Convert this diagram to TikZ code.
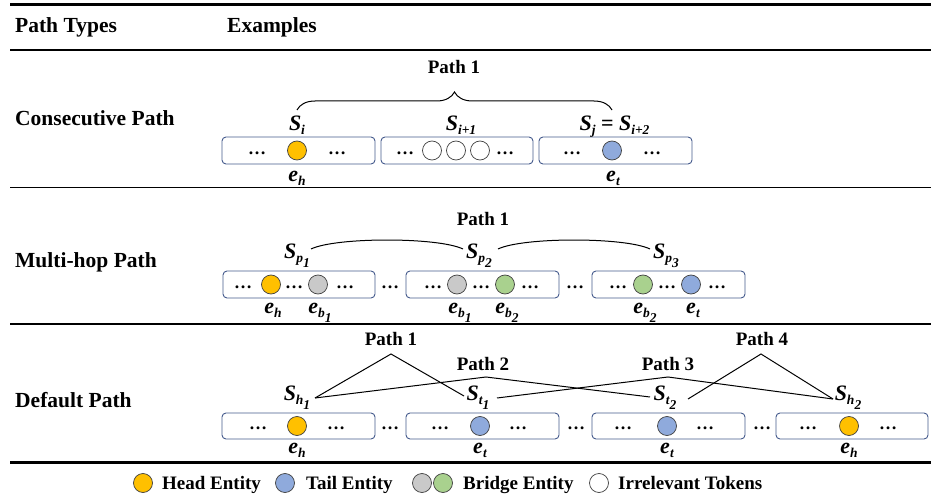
\documentclass[tikz,border=0pt]{standalone}
\usepackage{fontspec}
\setmainfont{Liberation Serif}
\usetikzlibrary{decorations.pathreplacing}
\definecolor{headc}{HTML}{FFC000}
\definecolor{tailc}{HTML}{8FAADC}
\definecolor{grayc}{HTML}{C9C9C9}
\definecolor{greenc}{HTML}{A9D18E}
\definecolor{boxc}{RGB}{68,90,140}
\newcommand{\sbx}[1]{\raisebox{-4.5pt}{\fontsize{13.5}{13.5}\selectfont #1}}
\tikzset{
  ent/.style={circle, draw=black!75, line width=0.7pt, minimum size=19pt, inner sep=0pt},
  headent/.style={ent, fill=headc},
  tailent/.style={ent, fill=tailc},
  grayent/.style={ent, fill=grayc},
  greenent/.style={ent, fill=greenc},
  whiteent/.style={ent, fill=white},
  tokbox/.style={draw=boxc, rounded corners=4pt, line width=0.9pt, inner sep=0pt, minimum height=27pt},
  dotsl/.style={anchor=base, inner sep=0pt, font=\fontsize{18}{18}\selectfont\bfseries},
  slab/.style={anchor=base, inner sep=0pt, font=\fontsize{22}{22}\selectfont\bfseries\itshape},
  elab/.style={anchor=base, inner sep=0pt, font=\fontsize{22}{22}\selectfont\bfseries\itshape},
  pathlab/.style={anchor=base, inner sep=0pt, font=\fontsize{19}{19}\selectfont\bfseries},
  rowtitle/.style={anchor=base west, inner sep=0pt, font=\fontsize{21.5}{21.5}\selectfont\bfseries},
  legtext/.style={anchor=base west, inner sep=0pt, font=\fontsize{19}{19}\selectfont\bfseries},
  conn/.style={line width=1pt, black},
  rulethick/.style={line width=3pt},
  rulethin/.style={line width=1.8pt},
}
\begin{document}
\begin{tikzpicture}[x=1pt,y=-1pt]
\useasboundingbox (0,0) rectangle (938,503);
% rules
\draw[rulethick] (10,5) -- (931,5);
\draw[rulethin] (10,50) -- (931,50);
\draw[rulethin] (10,187.5) -- (931,187.5);
\draw[rulethin] (10,324) -- (931,324);
\draw[rulethick] (10,462) -- (931,462);
% header
\node[rowtitle] (hpt) at (15,33) {Path Types};
\node[rowtitle] (hex) at (227,33) {Examples};
\node[rowtitle] (rcp) at (15,125) {Consecutive Path};
\node[rowtitle] (rmp) at (15,267) {Multi-hop Path};
\node[rowtitle] (rdp) at (15,407) {Default Path};

% ---------- Consecutive ----------
\node[tokbox, minimum width=153pt] (cb1) at (298.5,150.5) {};
\node[tokbox, minimum width=152pt] (cb2) at (457,150.5) {};
\node[tokbox, minimum width=153pt] (cb3) at (615.5,150.5) {};
\node[headent] (ch) at (297,150.5) {};
\node[whiteent] (cw1) at (432,150.5) {};
\node[whiteent] (cw2) at (456,150.5) {};
\node[whiteent] (cw3) at (480,150.5) {};
\node[tailent] (ct) at (612,150.5) {};
\node[dotsl] (cd1) at (257,154) {\dots};
\node[dotsl] (cd2) at (337,154) {\dots};
\node[dotsl] (cd3) at (405,154) {\dots};
\node[dotsl] (cd4) at (505,154) {\dots};
\node[dotsl] (cd5) at (572,154) {\dots};
\node[dotsl] (cd6) at (652,154) {\dots};
\node[slab] (csi) at (297,130) {S\sbx{i}};
\node[slab] (csi1) at (461,130) {S\sbx{i+1}};
\node[slab] (csj) at (614.5,130) {S\sbx{j} {\upshape=} S\sbx{i+2}};
\node[elab] (ceh) at (297,181) {e\sbx{h}};
\node[elab] (cet) at (613,181) {e\sbx{t}};
\node[pathlab] (cp1) at (454,74) {Path 1};
\coordinate (cbl) at (297,110);
\coordinate (cbr) at (612,110);
\draw[decorate, decoration={brace, amplitude=18pt}, line width=1pt] (cbl) -- (cbr);

% ---------- Multi-hop ----------
\node[tokbox, minimum width=152pt] (mb1) at (299,284.5) {};
\node[tokbox, minimum width=153pt] (mb2) at (482.5,284.5) {};
\node[tokbox, minimum width=153pt] (mb3) at (668.5,284.5) {};
\node[dotsl] (mx1) at (390,288) {\dots};
\node[dotsl] (mx2) at (575,288) {\dots};
\node[headent] (mh) at (271,284.5) {};
\node[grayent] (mg1) at (318,284.5) {};
\node[grayent] (mg2) at (457,284.5) {};
\node[greenent] (mn1) at (505,284.5) {};
\node[greenent] (mn2) at (643,284.5) {};
\node[tailent] (mt) at (691,284.5) {};
\node[dotsl] (md1) at (243,288) {\dots};
\node[dotsl] (md2) at (294,288) {\dots};
\node[dotsl] (md3) at (345,288) {\dots};
\node[dotsl] (md4) at (433,288) {\dots};
\node[dotsl] (md5) at (481,288) {\dots};
\node[dotsl] (md6) at (530,288) {\dots};
\node[dotsl] (md7) at (618,288) {\dots};
\node[dotsl] (md8) at (667,288) {\dots};
\node[dotsl] (md9) at (717,288) {\dots};
\node[slab] (msp1) at (297,258) {S\sbx{p\sbx{1}}};
\node[slab] (msp2) at (479,258) {S\sbx{p\sbx{2}}};
\node[slab] (msp3) at (666,258) {S\sbx{p\sbx{3}}};
\node[elab] (meh) at (273,313) {e\sbx{h}};
\node[elab] (meb1) at (320,313) {e\sbx{b\sbx{1}}};
\node[elab] (meb1b) at (460,313) {e\sbx{b\sbx{1}}};
\node[elab] (meb2) at (507,313) {e\sbx{b\sbx{2}}};
\node[elab] (meb2b) at (645,313) {e\sbx{b\sbx{2}}};
\node[elab] (met) at (693,313) {e\sbx{t}};
\node[pathlab] (mp1) at (483,225) {Path 1};
\coordinate (ma1) at (311,249);
\coordinate (ma2) at (463,249);
\coordinate (ma3) at (498,249);
\coordinate (ma4) at (650,249);
\draw[conn] (ma1) .. controls (336,237) and (438,237) .. (ma2);
\draw[conn] (ma3) .. controls (523,237) and (625,237) .. (ma4);

% ---------- Default ----------
\node[tokbox, minimum width=153pt, minimum height=26pt] (db1) at (298.5,426) {};
\node[tokbox, minimum width=153pt, minimum height=26pt] (db2) at (482.5,426) {};
\node[tokbox, minimum width=153pt, minimum height=26pt] (db3) at (668.5,426) {};
\node[tokbox, minimum width=152pt, minimum height=26pt] (db4) at (852,426) {};
\node[dotsl] (dx1) at (390,429) {\dots};
\node[dotsl] (dx2) at (576,429) {\dots};
\node[dotsl] (dx3) at (762,429) {\dots};
\node[headent] (dh1) at (297,426) {};
\node[tailent] (dt1) at (480,426) {};
\node[tailent] (dt2) at (667,426) {};
\node[headent] (dh2) at (849,426) {};
\node[dotsl] (dd1) at (258,429) {\dots};
\node[dotsl] (dd2) at (336,429) {\dots};
\node[dotsl] (dd3) at (440,429) {\dots};
\node[dotsl] (dd4) at (518,429) {\dots};
\node[dotsl] (dd5) at (623,429) {\dots};
\node[dotsl] (dd6) at (705,429) {\dots};
\node[dotsl] (dd7) at (808,429) {\dots};
\node[dotsl] (dd8) at (888,429) {\dots};
\node[slab] (dsh1) at (297,400) {S\sbx{h\sbx{1}}};
\node[slab] (dst1) at (478,400) {S\sbx{t\sbx{1}}};
\node[slab] (dst2) at (665,400) {S\sbx{t\sbx{2}}};
\node[slab] (dsh2) at (848,400) {S\sbx{h\sbx{2}}};
\node[elab] (deh1) at (297,453) {e\sbx{h}};
\node[elab] (det1) at (480,453) {e\sbx{t}};
\node[elab] (det2) at (667,453) {e\sbx{t}};
\node[elab] (deh2) at (849,453) {e\sbx{h}};
\node[pathlab] (dp1) at (391,345) {Path 1};
\node[pathlab] (dp2) at (483,370) {Path 2};
\node[pathlab] (dp3) at (668,370) {Path 3};
\node[pathlab] (dp4) at (762,345) {Path 4};
\coordinate (ap1) at (391,354);
\coordinate (ap2) at (486,377);
\coordinate (ap3) at (668,377);
\coordinate (ap4) at (761,354);
\coordinate (eh1) at (315,398);
\coordinate (et1l) at (464,396);
\coordinate (et1r) at (497,398);
\coordinate (et2l) at (650,397);
\coordinate (et2r) at (688,399);
\coordinate (eh2) at (833,399);
\draw[conn] (eh1) -- (ap1) -- (et1l);
\draw[conn] (eh1) -- (ap2) -- (et2l);
\draw[conn] (et1r) -- (ap3) -- (eh2);
\draw[conn] (et2r) -- (ap4) -- (eh2);

% ---------- Legend ----------
\node[headent] (lh) at (143,483) {};
\node[legtext] (lht) at (162,489) {Head Entity};
\node[tailent] (lt) at (285,483) {};
\node[legtext] (ltt) at (306,489) {Tail Entity};
\node[grayent] (lg) at (422,483) {};
\node[greenent] (lgr) at (443,483) {};
\node[legtext] (lbt) at (463,489) {Bridge Entity};
\node[whiteent] (lw) at (599,483) {};
\node[legtext] (lwt) at (618,489) {Irrelevant Tokens};
\end{tikzpicture}
\end{document}
